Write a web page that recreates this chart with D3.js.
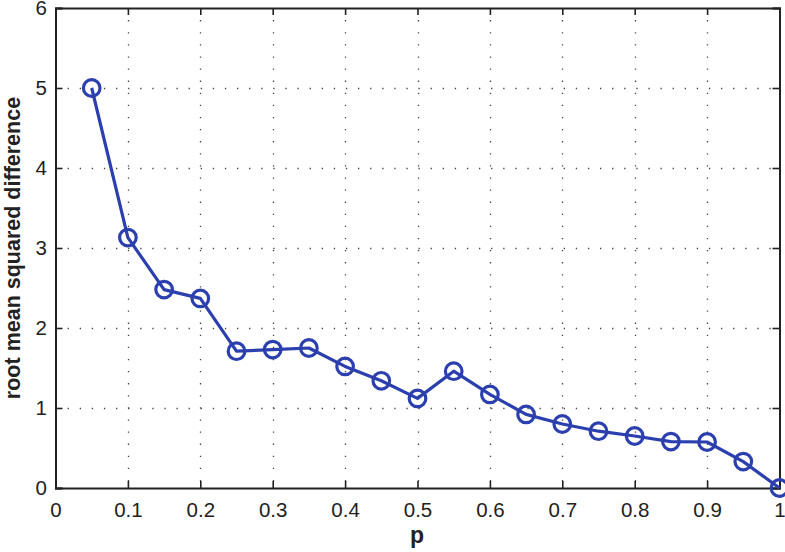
<!DOCTYPE html>
<html>
<head>
<meta charset="utf-8">
<script src="https://cdn.jsdelivr.net/npm/d3@7"></script>
<style>
  html, body { margin: 0; padding: 0; background: #fff; }
  svg { display: block; }
  text { font-family: "Liberation Sans", Arial, Helvetica, sans-serif; }
</style>
</head>
<body>
<svg id="chart" width="785" height="552"></svg>
<script>
// p values and the root mean squared difference at each
const pValues = [0.05, 0.1, 0.15, 0.2, 0.25, 0.3, 0.35, 0.4, 0.45, 0.5,
                 0.55, 0.6, 0.65, 0.7, 0.75, 0.8, 0.85, 0.9, 0.95, 1.0];
const rmsd = [5.0, 3.13, 2.48, 2.37, 1.71, 1.73, 1.75, 1.52, 1.34, 1.12,
              1.46, 1.17, 0.92, 0.80, 0.71, 0.65, 0.58, 0.575, 0.33, 0.0];
const xTicks = [0, 0.1, 0.2, 0.3, 0.4, 0.5, 0.6, 0.7, 0.8, 0.9, 1];
const yTicks = [0, 1, 2, 3, 4, 5, 6];
const xTitle = "p";
const yTitle = "root mean squared difference";

const svg = d3.select("#chart");
const plotL = 55.5, plotR = 779.5, plotT = 8, plotB = 488;
const x = d3.scaleLinear().domain([0, 1]).range([plotL, plotR]);
const y = d3.scaleLinear().domain([0, 6]).range([plotB, plotT]);

const ink = "#222";
const grid = svg.append("g");

// dotted grid lines
grid.selectAll("line.v").data(xTicks.slice(1, -1)).enter().append("line")
  .attr("x1", d => Math.round(x(d)) + 0.5).attr("x2", d => Math.round(x(d)) + 0.5)
  .attr("y1", plotT).attr("y2", plotB)
  .attr("stroke", "#444").attr("stroke-width", 1.3)
  .attr("stroke-dasharray", "1.3,10.8");
grid.selectAll("line.h").data(yTicks.slice(1, -1)).enter().append("line")
  .attr("y1", d => Math.round(y(d)) + 0.5).attr("y2", d => Math.round(y(d)) + 0.5)
  .attr("x1", plotL).attr("x2", plotR)
  .attr("stroke", "#444").attr("stroke-width", 1.3)
  .attr("stroke-dasharray", "1.3,10.8");

// axes with inward ticks on all four sides
const tickLen = 7;
const bottomAxis = d3.axisBottom(x).tickValues(xTicks).tickSize(-tickLen).tickPadding(14.5)
  .tickFormat(d => d === 0 ? "0" : d === 1 ? "1" : d3.format(".1f")(d));
const topAxis = d3.axisTop(x).tickValues(xTicks).tickSize(-tickLen).tickFormat("");
const leftAxis = d3.axisLeft(y).tickValues(yTicks).tickSize(-tickLen).tickPadding(8.5)
  .tickFormat(d3.format("d"));
const rightAxis = d3.axisRight(y).tickValues(yTicks).tickSize(-tickLen).tickFormat("");

function styleAxis(g) {
  g.select(".domain").attr("stroke", ink).attr("stroke-width", 2);
  g.selectAll(".tick line").attr("stroke", ink).attr("stroke-width", 1.6);
  g.selectAll(".tick text").attr("fill", "#222").attr("font-size", 20.5);
}
svg.append("g").attr("transform", `translate(0,${plotB})`).call(bottomAxis).call(styleAxis);
svg.append("g").attr("transform", `translate(0,${plotT})`).call(topAxis).call(styleAxis);
svg.append("g").attr("transform", `translate(${plotL},0)`).call(leftAxis).call(styleAxis);
svg.append("g").attr("transform", `translate(${plotR},0)`).call(rightAxis).call(styleAxis);

// series line and circle markers
const blue = "#2b3fae";
const pts = pValues.map((p, i) => [p, rmsd[i]]);
svg.append("path")
  .datum(pts)
  .attr("fill", "none")
  .attr("stroke", blue)
  .attr("stroke-width", 3.2)
  .attr("stroke-linejoin", "round")
  .attr("d", d3.line().x(d => x(d[0])).y(d => y(d[1])));
svg.selectAll("circle.m").data(pts).enter().append("circle")
  .attr("cx", d => x(d[0])).attr("cy", d => y(d[1]))
  .attr("r", 8.3)
  .attr("fill", "none")
  .attr("stroke", blue)
  .attr("stroke-width", 3.2);

// axis titles
svg.append("text")
  .attr("x", 417).attr("y", 543)
  .attr("text-anchor", "middle")
  .attr("font-size", 23).attr("font-weight", "bold").attr("fill", "#222")
  .text(xTitle);
svg.append("text")
  .attr("transform", `translate(20,${(plotT + plotB) / 2}) rotate(-90)`)
  .attr("text-anchor", "middle")
  .attr("font-size", 21.5).attr("font-weight", "bold").attr("fill", "#222")
  .text(yTitle);
</script>
</body>
</html>
